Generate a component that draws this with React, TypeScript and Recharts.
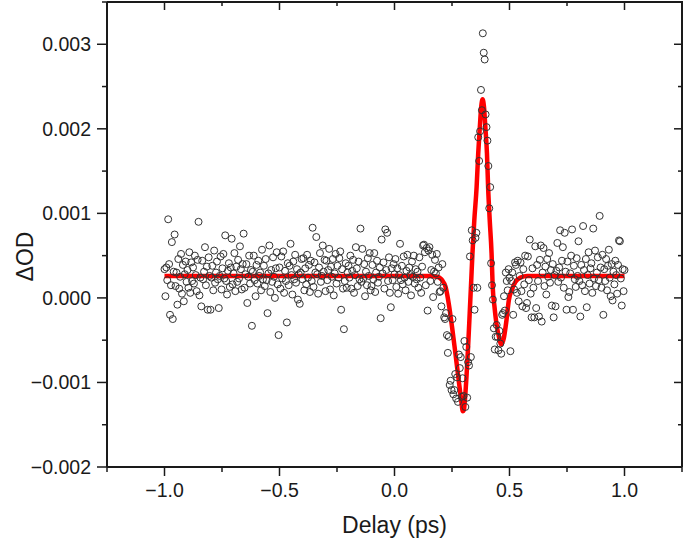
import { ComposedChart, Line, Scatter, XAxis, YAxis } from "recharts";

const FONT = '"Liberation Sans", Arial, Helvetica, sans-serif';
const INK = "#1a1a1a";
const FIT_RED = "#ff0000";

// sampling grid of the measurement (ps)
const DELAY_START = -1.0;
const DELAY_STEP = 0.004;

// measured ΔOD in units of 1e-4, one row per 0.1 ps (last value is at 1.000 ps)
const DOD = [
  3.4, 0.2, 3.6, 2.1, 9.3, 4.0, -2.0, 1.5, 6.6, -2.5, 3.1, 7.5, 1.4, 3.0, -0.8, 4.6, 1.1, 2.5, 5.2, 0.5, 3.9, -0.4, 2.8, 4.3, 1.9,
  3.3, 1.2, 5.4, 0.6, 4.2, 2.0, 3.6, 1.7, 5.0, 2.7, 0.8, 4.5, 9.0, 0.3, 2.4, -1.0, 4.4, 2.2, 3.1, 6.0, 1.5, 3.7, -1.4, 4.8, 2.6,
  -1.4, 2.4, 3.8, 0.9, 5.6, 1.8, 3.0, 4.3, 2.2, -1.2, 2.6, 4.9, 1.0, 3.5, 5.2, 2.3, 7.4, 2.0, 0.4, 3.2, 4.1, 1.3, 3.6, 7.0, 1.6,
  2.9, 5.3, 0.8, 3.7, 1.9, 4.5, 2.3, 6.1, 3.4, 1.0, 4.0, 7.6, 1.2, 2.8, 4.0, -0.6, 2.5, 5.0, 1.7, 3.3, -3.3, 3.1, 5.0, 2.1, 0.2,
  3.9, 1.7, 4.4, 2.6, 3.0, 0.9, 5.7, 2.2, 3.8, 1.4, 4.6, 2.1, -1.8, 2.9, 6.2, 0.7, 3.3, 1.9, 4.8, 2.5, 0.0, 3.5, 5.4, 1.6, -4.4,
  3.6, 1.1, 4.9, 2.3, 5.5, 0.6, 3.2, 2.0, -2.9, 4.1, 1.5, 3.8, 6.4, 2.7, 0.4, 4.3, 2.2, 5.1, 1.8, 3.4, -0.2, 2.8, -0.7, 3.0, 4.6,
  2.2, 4.7, 0.9, 3.5, 1.6, 5.1, 2.4, 3.9, 0.7, 4.4, 2.0, 8.3, 1.3, 4.2, 3.0, 7.2, 2.8, 0.5, 3.6, 5.3, 1.9, 2.6, 6.2, 3.1, 4.5,
  0.8, 4.4, 2.1, 3.3, 5.8, 1.0, 3.7, 2.5, 4.6, 0.3, 2.9, 5.2, 1.7, 3.8, 2.4, 4.7, 5.5, -1.4, 3.4, 1.1, -3.7, 2.0, 4.1, 1.2, 3.0,
  3.8, 2.4, 5.0, 1.1, 3.2, 4.5, 0.6, 2.7, 6.0, 3.5, 1.4, 4.3, 2.2, 8.2, 1.9, 5.8, 2.3, 4.0, 0.2, 3.1, 1.5, 4.7, 2.6, 5.3, 0.9,
  1.4, 3.9, 2.2, 5.3, 0.7, 3.0, 4.4, 1.8, 2.5, 3.6, -2.4, 6.9, 2.9, 4.2, 1.1, 8.1, 3.3, 7.7, 2.0, 4.8, 0.6, -1.1, 3.5, 2.1, 4.0,
  2.8, 4.6, 1.3, 3.5, 0.5, 2.7, 6.4, 2.1, 3.8, 1.6, 4.9, 2.4, 0.9, 3.2, 5.1, 1.9, 3.6, 2.7, 0.3, 4.3, 2.5, 5.0, 1.7, 3.4, 2.2,
  3.1, 1.2, 4.8, 2.4, 0.6, 3.7, 6.2, 6.3, 5.4, 1.5, 5.9, -1.5, 5.6, 6.0, 2.0, 3.3, 5.1, 0.1, 3.1, 4.5, 2.9, 5.2, 1.9, 3.6, 0.7,
  0.8, -1.0, 4.0, 1.2, -2.3, -2.5, -1.8, -4.4, -6.5, -4.6, -10.3, -9.8, -10.9, -2.5, -11.4, -10.9, -9.0, -11.9, -9.4, -12.3, -6.7, -8.3, -7.0, -11.7, -9.5,
  -11.6, -5.1, -12.9, -5.8, -11.8, -7.6, -8.0, 4.9, -7.0, 8.0, 6.8, 1.2, -1.4, 7.1, 7.7, 1.2, 19.0, 16.2, 19.7, 24.6, 22.2, 31.3, 29.0, 28.2, 21.7,
  20.2, 18.6, 15.6, 10.6, 13.1, 4.1, 1.5, -0.2, -3.6, -6.1, -4.6, -3.2, -4.6, -6.2, -3.9, -5.4, -6.6, -2.0, -1.8, 0.2, -1.5, 3.0, 2.0, 0.9, 3.4,
  2.4, -6.3, 2.0, 3.0, -2.0, 1.0, 4.2, 3.9, 0.6, 4.4, -0.4, 2.6, 4.2, 0.8, -1.0, 3.4, 1.6, 5.0, -1.2, -0.6, 4.9, 2.1, 6.9, 0.5, -2.3,
  3.5, 1.2, -2.3, 6.1, -1.2, 3.9, 2.0, -2.2, 4.5, 6.2, -2.8, 3.0, 5.9, 1.4, 3.7, 0.4, 4.6, 2.5, 5.3, 1.8, 3.3, -0.9, 4.0, -2.3, 2.7,
  -1.0, 3.2, 6.5, 1.9, 3.6, 8.0, 2.4, 4.4, 6.0, 1.2, 7.7, 3.1, -1.4, 4.3, 0.1, 0.7, 2.9, 5.0, 8.1, -1.4, 3.8, 2.2, 1.3, 4.7, 2.6,
  6.7, 2.0, -2.2, 3.9, 1.5, 8.5, 3.3, 0.8, 4.6, -1.1, 2.7, 5.4, 1.7, 3.5, 4.1, 0.6, 8.2, 2.3, 5.6, 1.4, 3.0, 4.8, 2.1, 9.7, 3.6,
  1.2, 5.1, -2.0, 3.4, 2.0, 4.6, 0.9, 3.8, 5.7, 2.4, 0.2, 4.0, -0.3, 3.1, 1.6, 4.4, 2.7, 0.5, 3.9, 6.8, 6.7, 2.3, -0.9, 3.4, 0.8,
  3.3,
];

// fitted curve (ps, ΔOD in 1e-4)
const FIT_DELAY = [
  -1.0, 0.15, 0.17, 0.186, 0.2, 0.207, 0.222, 0.236, 0.25, 0.265, 0.279, 0.29, 0.297, 0.302,
  0.306, 0.313, 0.32, 0.327, 0.333, 0.339, 0.347, 0.357, 0.364, 0.371, 0.377, 0.383, 0.389,
  0.395, 0.402, 0.407, 0.414, 0.422, 0.427, 0.435, 0.443, 0.454, 0.464, 0.475, 0.487, 0.497,
  0.512, 0.526, 0.548, 0.577, 1.0,
];
const FIT_DOD = [
  2.6, 2.6, 2.55, 2.5, 2.3, 2.1, 1.3, -0.7, -3.4, -6.6, -9.7, -12.1, -13.4, -13.2,
  -12.1, -9.3, -5.8, -1.8, 1.7, 5.3, 9.2, 13.1, 17.1, 20.2, 22.6, 23.5, 22.6,
  20.2, 17.1, 13.1, 9.2, 5.3, 1.3, -1.1, -3.0, -4.6, -5.5, -4.8, -2.6, -0.3,
  1.1, 1.9, 2.4, 2.6, 2.6,
];

const X_MAJOR = [-1, -0.5, 0, 0.5, 1];
const X_MINOR = [-1.25, -0.75, -0.25, 0.25, 0.75, 1.25];
const Y_MAJOR = [-20, -10, 0, 10, 20, 30];
const Y_MINOR = [-15, -5, 5, 15, 25, 35];

const X_TICKS = [...X_MAJOR, ...X_MINOR].sort((a, b) => a - b);
const Y_TICKS = [...Y_MAJOR, ...Y_MINOR].sort((a, b) => a - b);

const points = DOD.map((v, i) => ({ x: DELAY_START + i * DELAY_STEP, y: v }));
const fit = FIT_DELAY.map((x, i) => ({ x, y: FIT_DOD[i] }));

const isIn = (list: number[], v: number) => list.some((m) => Math.abs(m - v) < 1e-9);
const minus = (s: string) => s.replace("-", "\u2212");
const fmtX = (v: number) => minus(v.toFixed(1));
const fmtY = (v: number) => minus((v / 10000).toFixed(3));

const TICK_FONT = 19.5;
const TITLE_FONT = 23;

// plot box in page pixels (margins + axis sizes below)
const PLOT_LEFT = 107;
const PLOT_TOP = 2;
const PLOT_RIGHT = 682;
const PLOT_BOTTOM = 467;

function BottomTick(props: any) {
  const { x, y, payload } = props;
  const major = isIn(X_MAJOR, payload.value);
  return (
    <g>
      <line x1={x} y1={y} x2={x} y2={y + (major ? 9 : 5)} stroke={INK} strokeWidth={1.5} />
      {major && (
        <text x={x} y={y + 30} textAnchor="middle" fontSize={TICK_FONT} fontFamily={FONT} fill={INK}>
          {fmtX(payload.value)}
        </text>
      )}
    </g>
  );
}

function LeftTick(props: any) {
  const { x, y, payload } = props;
  const major = isIn(Y_MAJOR, payload.value);
  return (
    <g>
      <line x1={x} y1={y} x2={x - (major ? 10 : 5)} y2={y} stroke={INK} strokeWidth={1.5} />
      {major && (
        <text x={x - 16} y={y} dy="0.36em" textAnchor="end" fontSize={TICK_FONT} fontFamily={FONT} fill={INK}>
          {fmtY(payload.value)}
        </text>
      )}
    </g>
  );
}

// top and right frame: ticks point inward, no labels
function TopTick(props: any) {
  const { x, y, payload } = props;
  const major = isIn(X_MAJOR, payload.value);
  return <line x1={x} y1={y} x2={x} y2={y + (major ? 8 : 4)} stroke={INK} strokeWidth={1.5} />;
}

function RightTick(props: any) {
  const { x, y, payload } = props;
  const major = isIn(Y_MAJOR, payload.value);
  return <line x1={x} y1={y} x2={x - (major ? 8 : 4)} y2={y} stroke={INK} strokeWidth={1.5} />;
}

function Ring(props: any) {
  return <circle cx={props.cx} cy={props.cy} r={3.5} fill="none" stroke="#333" strokeWidth={1} />;
}

const axisLine = { stroke: INK, strokeWidth: 2 };

export default function App() {
  return (
    <div style={{ position: "absolute", left: 0, top: 0, width: 685, height: 542, background: "#fff" }}>
      <ComposedChart width={685} height={542} margin={{ top: 1, right: 2, bottom: 0, left: 7 }}>
        <XAxis
          xAxisId="bottom"
          dataKey="x"
          type="number"
          domain={[-1.25, 1.25]}
          ticks={X_TICKS}
          interval={0}
          height={75}
          tickSize={0}
          tickMargin={0}
          tickLine={false}
          axisLine={axisLine}
          tick={<BottomTick />}
          allowDataOverflow
          label={{
            content: (p: any) => {
              const vb = p.viewBox;
              return (
                <text
                  x={vb.x + vb.width / 2}
                  y={vb.y + 66}
                  textAnchor="middle"
                  fontSize={TITLE_FONT}
                  fontFamily={FONT}
                  fill={INK}
                >
                  Delay (ps)
                </text>
              );
            },
          }}
        />
        <XAxis
          xAxisId="top"
          orientation="top"
          dataKey="x"
          type="number"
          domain={[-1.25, 1.25]}
          ticks={X_TICKS}
          interval={0}
          height={1}
          tickSize={0}
          tickMargin={0}
          tickLine={false}
          axisLine={axisLine}
          tick={<TopTick />}
          allowDataOverflow
        />
        <YAxis
          yAxisId="left"
          dataKey="y"
          type="number"
          domain={[-20, 35]}
          ticks={Y_TICKS}
          interval={0}
          width={100}
          tickSize={0}
          tickMargin={0}
          tickLine={false}
          axisLine={axisLine}
          tick={<LeftTick />}
          allowDataOverflow
          label={{
            content: (p: any) => {
              const vb = p.viewBox;
              const cx = vb.x + 18;
              const cy = vb.y + vb.height / 2 + 22;
              return (
                <text
                  x={cx}
                  y={cy}
                  dy="0.36em"
                  transform={`rotate(-90 ${cx} ${cy})`}
                  textAnchor="middle"
                  fontSize={TITLE_FONT}
                  fontFamily={FONT}
                  fill={INK}
                >
                  ΔOD
                </text>
              );
            },
          }}
        />
        <YAxis
          yAxisId="right"
          orientation="right"
          dataKey="y"
          type="number"
          domain={[-20, 35]}
          ticks={Y_TICKS}
          interval={0}
          width={1}
          tickSize={0}
          tickMargin={0}
          tickLine={false}
          axisLine={axisLine}
          tick={<RightTick />}
          allowDataOverflow
        />
        <Scatter
          xAxisId="bottom"
          yAxisId="left"
          data={points}
          dataKey="y"
          shape={<Ring />}
          isAnimationActive={false}
        />
        {/* invisible copy of the fit, only so the top/right frame axes get drawn */}
        <Line
          xAxisId="top"
          yAxisId="right"
          data={fit}
          dataKey="y"
          stroke="none"
          dot={false}
          isAnimationActive={false}
        />
        <Line
          xAxisId="bottom"
          yAxisId="left"
          data={fit}
          dataKey="y"
          type="monotone"
          stroke={FIT_RED}
          strokeWidth={4.5}
          dot={false}
          isAnimationActive={false}
        />
      </ComposedChart>
      {/* closes the box on top and right in case the mirror axes are not drawn */}
      <div
        style={{
          position: "absolute",
          left: PLOT_LEFT,
          top: PLOT_TOP - 1,
          width: PLOT_RIGHT - PLOT_LEFT + 1,
          height: PLOT_BOTTOM - PLOT_TOP + 1,
          borderTop: `2px solid ${INK}`,
          borderRight: `2px solid ${INK}`,
          boxSizing: "border-box",
          pointerEvents: "none",
        }}
      />
    </div>
  );
}
